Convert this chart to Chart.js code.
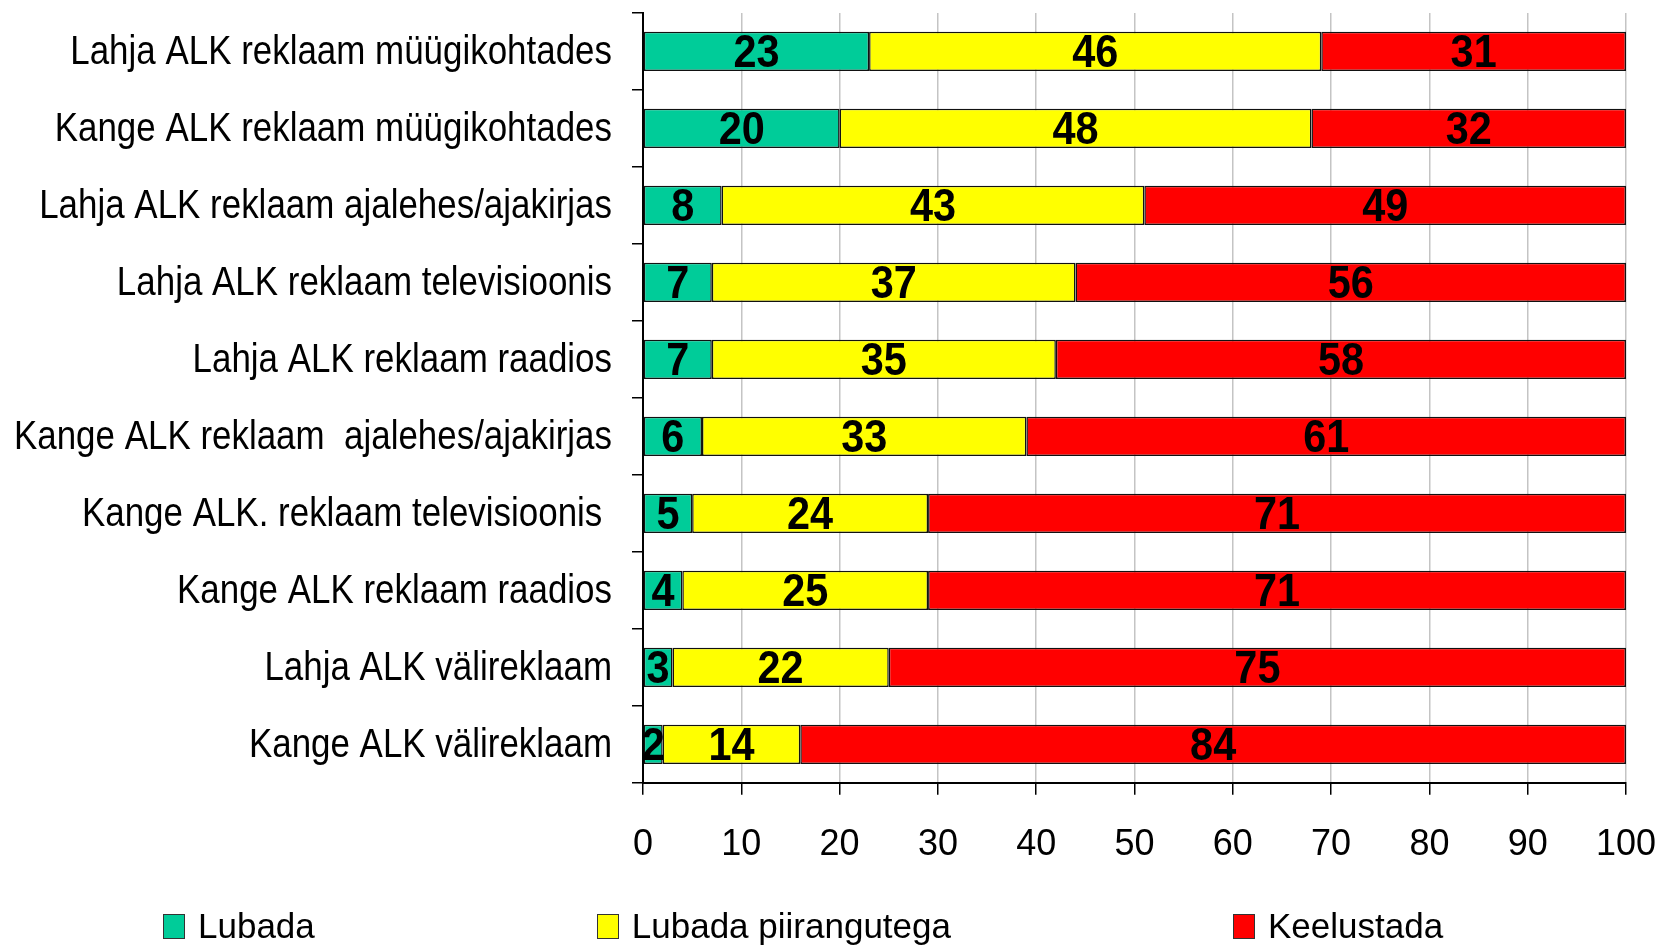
<!DOCTYPE html>
<html lang="et">
<head>
<meta charset="UTF-8">
<title>ALK reklaam</title>
<script src="https://cdn.jsdelivr.net/npm/chart.js"></script>
<style>
  html, body { margin: 0; padding: 0; background: #fff; }
  .wrap { position: relative; width: 1661px; height: 946px; overflow: hidden; }
  #legend {
    position: absolute; left: 163px; top: 906px;
    display: flex; gap: 282px;
    font-family: 'Liberation Sans', Arial, sans-serif;
    font-size: 35px; color: #000; white-space: nowrap;
  }
  #legend .item { display: flex; align-items: center; }
  #legend .box { width: 20px; height: 23px; border: 1px solid #333; margin-right: 13px; }
</style>
</head>
<body>
<div class="wrap">
  <canvas id="chart" width="1661" height="946"></canvas>
  <div id="legend"></div>
</div>
<script>
const FONT = "'Liberation Sans', Arial, sans-serif";

const categories = [
  'Lahja ALK reklaam müügikohtades',
  'Kange ALK reklaam müügikohtades',
  'Lahja ALK reklaam ajalehes/ajakirjas',
  'Lahja ALK reklaam televisioonis',
  'Lahja ALK reklaam raadios',
  'Kange ALK reklaam  ajalehes/ajakirjas',
  'Kange ALK. reklaam televisioonis ',
  'Kange ALK reklaam raadios',
  'Lahja ALK välireklaam',
  'Kange ALK välireklaam'
];
const seriesNames = ['Lubada', 'Lubada piirangutega', 'Keelustada'];
const lubada       = [23, 20, 8, 7, 7, 6, 5, 4, 3, 2];
const piirangutega = [46, 48, 43, 37, 35, 33, 24, 25, 22, 14];
const keelustada   = [31, 32, 49, 56, 58, 61, 71, 71, 75, 84];
const xTicks = [0, 10, 20, 30, 40, 50, 60, 70, 80, 90, 100];
const colors = ['#00CC99', '#FFFF00', '#FF0000'];

// text drawn narrower than the font, like the original
function squeezed(ctx, text, x, y, sx) {
  ctx.save();
  ctx.translate(x, y);
  ctx.scale(sx, 1);
  ctx.fillText(text, 0, 0);
  ctx.restore();
}

// category names + numbers in each segment
const textPlugin = {
  id: 'textPlugin',
  afterDraw(chart) {
    const ctx = chart.ctx;
    const yScale = chart.scales.y;
    ctx.save();
    ctx.fillStyle = '#000';
    ctx.textBaseline = 'middle';

    ctx.font = '41px ' + FONT;
    ctx.textAlign = 'right';
    const right = chart.chartArea.left - 31;
    chart.data.labels.forEach((lab, i) => {
      squeezed(ctx, lab, right, yScale.getPixelForTick(i) + 1, 0.852);
    });

    ctx.font = 'bold 46px ' + FONT;
    ctx.textAlign = 'center';
    chart.data.datasets.forEach((ds, i) => {
      chart.getDatasetMeta(i).data.forEach((bar, j) => {
        const p = bar.getCenterPoint();
        squeezed(ctx, ds.data[j], p.x, p.y + 3, 0.9);
      });
    });
    ctx.restore();
  }
};

const chart = new Chart(document.getElementById('chart'), {
  type: 'bar',
  data: {
    labels: categories,
    datasets: [lubada, piirangutega, keelustada].map((d, i) => ({
      label: seriesNames[i],
      data: d,
      backgroundColor: colors[i],
      borderColor: '#111',
      borderWidth: 1.5,
      borderSkipped: false,
      barPercentage: 0.51,
      categoryPercentage: 1
    }))
  },
  options: {
    indexAxis: 'y',
    responsive: false,
    animation: false,
    layout: { padding: { top: 13, right: 35, bottom: 50, left: 0 } },
    plugins: { legend: { display: false }, tooltip: { enabled: false } },
    scales: {
      x: {
        stacked: true,
        min: xTicks[0], max: xTicks[xTicks.length - 1],
        afterBuildTicks(scale) { scale.ticks = xTicks.map(v => ({ value: v })); },
        ticks: { color: '#000', padding: 29, font: { family: FONT, size: 36 } },
        grid: { color: '#c4c4c4', tickColor: '#000', lineWidth: 1.5, tickLength: 12 },
        border: { color: '#000', width: 2 },
        afterFit(scale) { scale.paddingLeft = 0; scale.paddingRight = 0; }
      },
      y: {
        stacked: true,
        ticks: { display: false },
        grid: { offset: true, drawOnChartArea: false, color: '#000', lineWidth: 1.5, tickLength: 11 },
        border: { color: '#000', width: 2 },
        afterFit(scale) { scale.width = 643; }
      }
    }
  },
  plugins: [textPlugin]
});

// legend below the chart
const legend = document.getElementById('legend');
seriesNames.forEach((name, i) => {
  const item = document.createElement('div');
  item.className = 'item';
  item.innerHTML = '<span class="box" style="background:' + colors[i] + '"></span><span>' + name + '</span>';
  legend.appendChild(item);
});
</script>
</body>
</html>
